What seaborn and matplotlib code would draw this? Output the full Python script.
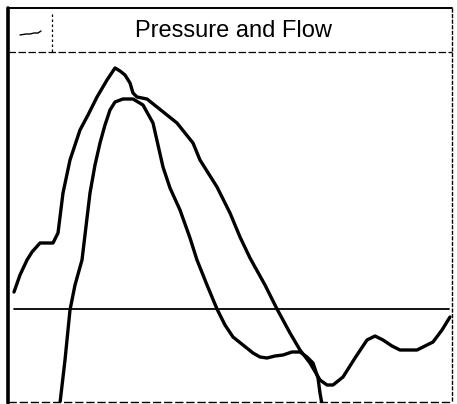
import matplotlib
matplotlib.use("Agg")
import matplotlib.pyplot as plt
from matplotlib.lines import Line2D
import seaborn as sns
import pandas as pd

# Data (time units, signal units; 0 = baseline)
pressure_t = [6, 12, 19, 24, 32, 39, 45, 50, 55, 62, 72, 80, 89, 99, 107, 112, 117, 122, 125,
              129, 139, 149, 159, 169, 185, 192, 209, 222, 232, 242, 257, 269, 282, 292, 302,
              312, 319, 325, 335, 347, 359, 367, 375, 384, 392, 409, 417, 425, 434, 442]
pressure_v = [17, 34, 49, 57, 66, 66, 66, 76, 116, 149, 179, 194, 212, 229, 241, 238, 234, 226,
              216, 212, 210, 202, 194, 186, 166, 149, 122, 96, 72, 51, 24, 0, -24, -41, -54,
              -71, -76, -76, -68, -49, -31, -27, -31, -37, -41, -41, -37, -33, -21, -8]
flow_t = [52, 57, 62, 67, 74, 82, 87, 92, 97, 102, 107, 115, 125, 135, 145, 150, 155, 162,
          172, 182, 189, 199, 209, 217, 225, 235, 245, 252, 259, 267, 275, 284, 292, 299,
          305, 310, 312, 315]
flow_v = [-94, -51, -1, 24, 49, 116, 144, 166, 184, 199, 207, 210, 210, 204, 186, 164, 142,
          121, 99, 71, 49, 24, 0, -16, -28, -36, -44, -48, -49, -47, -46, -43, -43, -48,
          -54, -69, -84, -101]
title = "Pressure and Flow"

W, H = 457, 404
fig = plt.figure(figsize=(W / 100, H / 100), dpi=100)
fig.patch.set_facecolor("white")
sns.set_style("white")
plt.rcParams['font.family'] = ['Liberation Sans', 'DejaVu Sans']

def fx(px):
    return px / W

def fy(py):
    return 1 - py / H

ax = fig.add_axes([fx(8), fy(402), (452 - 8) / W, (402 - 52) / H])
ax.set_facecolor("white")

df_p = pd.DataFrame({"t": pressure_t, "v": pressure_v, "s": "Pressure"})
df_f = pd.DataFrame({"t": flow_t, "v": flow_v, "s": "Flow"})
df = pd.concat([df_p, df_f], ignore_index=True)

sns.lineplot(data=df, x="t", y="v", units="s", estimator=None, sort=False,
             color="black", linewidth=2.4, ax=ax, legend=False)
ax.axhline(0, xmin=6 / 444, xmax=441 / 444, color="black", linewidth=1.3)

ax.set_xlim(0, 444)
ax.set_ylim(-93, 257)
ax.set_xticks([])
ax.set_yticks([])
ax.set_xlabel("")
ax.set_ylabel("")
for sp in ax.spines.values():
    sp.set_visible(False)

def fline(xs, ys, **kw):
    fig.add_artist(Line2D([fx(x) for x in xs], [fy(y) for y in ys], color="black", **kw))

# frame
fline([8, 8], [8, 403], linewidth=2.6)
fline([8, 452], [8, 8], linewidth=1.4)
fline([452, 452], [8, 402], linewidth=1.0, linestyle=(0, (3, 1)))
fline([8, 452], [402, 402], linewidth=1.0, linestyle=(0, (6, 2)))
fline([8, 452], [52, 52], linewidth=0.9, linestyle=(0, (6, 2)))
fline([52, 52], [14, 52], linewidth=0.9, linestyle=(0, (2, 2)))
# legend glyph
fline([20, 26, 30, 34, 38, 41], [35, 34, 34, 33, 33, 31], linewidth=1.0)

fig.text(fx(233), fy(31), title, ha="center", va="center", fontsize=17, color="black")

fig.savefig("out.png", dpi=100, facecolor="white")
